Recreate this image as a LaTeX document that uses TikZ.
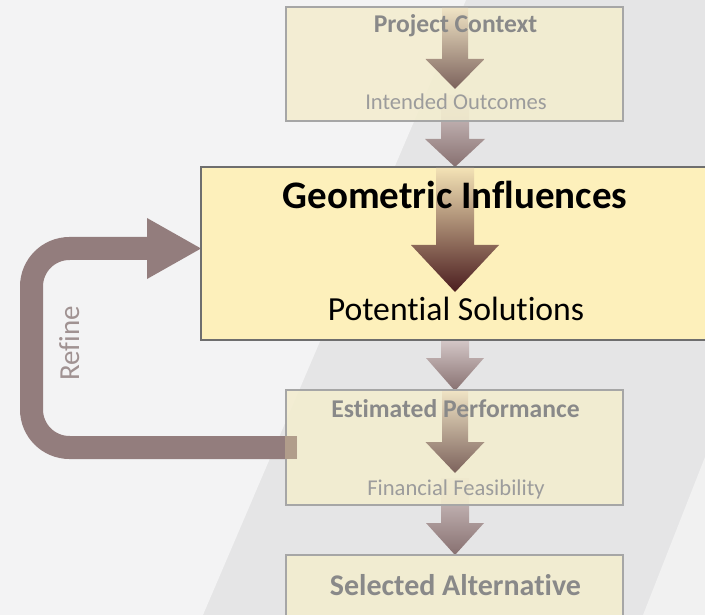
\documentclass[tikz,border=0pt]{standalone}
\usepackage{fontspec}
\setmainfont{Carlito}[Ligatures=NoCommon]
\begin{document}
\begin{tikzpicture}[x=1pt,y=-1pt,
  fadedbox/.style={draw=boxgray,line width=1.6pt,fill=fadedfill,fill opacity=0.88},
  mainbox/.style={draw=maingray,line width=1.5pt,fill=mainfill},
  fadedtitle/.style={anchor=base,text=titlegray,font=\bfseries\fontsize{25.6}{28}\selectfont},
  fadedsub/.style={anchor=base,text=subgray,font=\fontsize{22.6}{25}\selectfont},
  inarrow/.style={top color=inarrowtop,bottom color=inarrowbot},
  btwarrow/.style={top color=btwtop,bottom color=btwbot},
  bigarrow/.style={top color=bigtop,middle color=bigmid,bottom color=bigbot},
]
\definecolor{bgleft}{HTML}{F3F3F4}
\definecolor{bgmid}{HTML}{E5E5E6}
\definecolor{bgright}{HTML}{F1F1F1}
\definecolor{boxgray}{HTML}{A6A6A6}
\definecolor{maingray}{HTML}{6E6E6E}
\definecolor{fadedfill}{HTML}{F3EDCF}
\definecolor{mainfill}{HTML}{FDF0BB}
\definecolor{titlegray}{HTML}{898989}
\definecolor{subgray}{HTML}{9C9C9C}
\definecolor{refinecol}{HTML}{937D7D}
\definecolor{refineover}{HTML}{B19D8B}
\definecolor{refinetext}{HTML}{A09292}
\definecolor{inarrowtop}{HTML}{EFE3C4}
\definecolor{inarrowbot}{HTML}{7C625C}
\definecolor{btwtop}{HTML}{DACECE}
\definecolor{btwbot}{HTML}{877070}
\definecolor{bigtop}{HTML}{F3E2B5}
\definecolor{bigmid}{HTML}{957867}
\definecolor{bigbot}{HTML}{4B1D1F}
\newcommand\blkarrow[6]{%
  \shade[#6] (455-#4,#1) -- (455+#4,#1) -- (455+#4,#2) -- (455+#5,#2)
    -- (455,#3) -- (455-#5,#2) -- (455-#4,#2) -- cycle;}
\useasboundingbox (0,0) rectangle (705,615);
\clip (0,0) rectangle (705,615);
% background
\fill[bgmid] (0,0) rectangle (705,615);
\fill[bgleft] (0,0) -- (466,0) -- (203,615) -- (0,615) -- cycle;
\fill[bgright] (705,457) -- (643,615) -- (705,615) -- cycle;
% refine loop
\coordinate (rstart) at (297,447.5);
\coordinate (rc1) at (31.5,447.5);
\coordinate (rc2) at (31.5,248.5);
\coordinate (rend) at (149,248.5);
\draw[refinecol,line width=23pt,rounded corners=38pt] (rstart) -- (rc1) -- (rc2) -- (rend);
\fill[refinecol] (147,218) -- (201,248.5) -- (147,279) -- cycle;
\node[rotate=90,anchor=base,text=refinetext,font=\fontsize{29}{32}\selectfont] (refine) at (79,343.5) {Refine};
% arrows between boxes
\blkarrow{95}{139}{167}{14}{30}{btwarrow}
\blkarrow{336}{358}{391}{14}{29}{btwarrow}
\blkarrow{478}{523}{555}{14}{29}{btwarrow}
% boxes
\node[fadedbox,minimum width=337pt,minimum height=114pt,inner sep=0pt] (b1) at (454.5,64) {};
\node[mainbox,minimum width=520pt,minimum height=173pt,inner sep=0pt] (b2) at (461,253.5) {};
\node[fadedbox,minimum width=337pt,minimum height=115pt,inner sep=0pt] (b3) at (454.5,447.5) {};
\node[fadedbox,minimum width=337pt,minimum height=80pt,inner sep=0pt] (b4) at (454.5,595) {};
% refine end seen through box 3
\fill[refineover] (b3.west |- 0,436) rectangle (297,459);
% arrows inside boxes
\blkarrow{8}{59}{89}{13}{29.5}{inarrow}
\blkarrow{168}{245}{292}{19}{44}{bigarrow}
\blkarrow{391}{442}{473}{13}{29.5}{inarrow}
% texts
\node[fadedtitle] (t1) at (455.5,33) {Project Context};
\node[fadedsub] (s1) at (456,110) {Intended Outcomes};
\node[anchor=base,font=\bfseries\fontsize{39}{42}\selectfont] (t2) at (455,209) {Geometric Influences};
\node[anchor=base,font=\fontsize{33.7}{36}\selectfont] (s2) at (456,320) {Potential Solutions};
\node[fadedtitle] (t3) at (455.5,417) {Estimated Performance};
\node[fadedsub] (s3) at (456,495) {Financial Feasibility};
\node[fadedtitle,font=\bfseries\fontsize{30}{33}\selectfont] (t4) at (455.5,595) {Selected Alternative};
\end{tikzpicture}
\end{document}
